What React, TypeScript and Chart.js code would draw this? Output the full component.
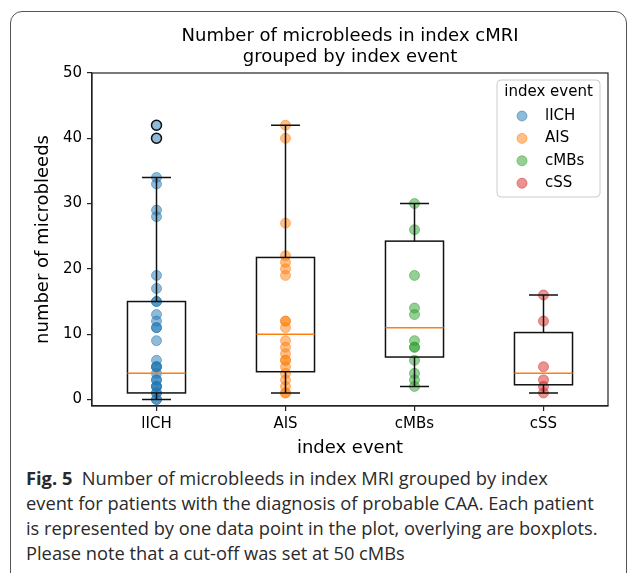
import React, { useEffect, useRef } from "react";
import { Chart, registerables } from "chart.js";

Chart.register(...registerables);

// ---- data ----
const categories = ["lICH", "AIS", "cMBs", "cSS"];
const lichValues = [42, 40, 34, 33, 29, 28, 19, 17, 15, 15, 13, 12, 11, 11, 9, 6, 5, 5, 5, 4, 3, 3, 2, 2, 2, 1, 1, 0, 0];
const aisValues = [42, 40, 27, 22, 21, 20, 19, 12, 12, 11, 9, 8, 7, 6, 6, 5, 4, 3, 2, 1, 1];
const cmbsValues = [30, 26, 19, 14, 13, 9, 8, 8, 6, 4, 3, 2];
const cssValues = [16, 12, 5, 3, 2, 1];
const boxQ1 = [1, 4.25, 6.5, 2.25];
const boxMedian = [4, 10, 11, 4];
const boxQ3 = [15, 21.75, 24.25, 10.25];
const whiskerLow = [0, 1, 2, 1];
const whiskerHigh = [34, 42, 30, 16];
const outlierCategory = ["lICH", "lICH"];
const outlierValues = [42, 40];
const yTicks = [0, 10, 20, 30, 40, 50];
const yMin = -1;
const yMax = 50;

const titleLines = ["Number of microbleeds in index cMRI", "grouped by index event"];
const legendTitle = "index event";
const xTitle = "index event";
const yTitle = "number of microbleeds";

const groupValues = [lichValues, aisValues, cmbsValues, cssValues];
const groupColors = ["rgba(31,119,180,0.5)", "rgba(255,127,14,0.5)", "rgba(44,160,44,0.5)", "rgba(214,39,40,0.5)"];

const FONT = "'DejaVu Sans', sans-serif";

const framePlugin = {
  id: "frameAndBoxes",
  afterDatasetsDraw(chart: any) {
    const { ctx, scales } = chart;
    const x = scales.x;
    const y = scales.y;
    const spacing = x.getPixelForValue(1) - x.getPixelForValue(0);
    const half = spacing * 0.45 / 2;
    const cap = spacing * 0.225 / 2;
    ctx.save();
    for (let i = 0; i < categories.length; i++) {
      const xc = x.getPixelForValue(i);
      const yq1 = y.getPixelForValue(boxQ1[i]);
      const yq3 = y.getPixelForValue(boxQ3[i]);
      const ymed = y.getPixelForValue(boxMedian[i]);
      const ylo = y.getPixelForValue(whiskerLow[i]);
      const yhi = y.getPixelForValue(whiskerHigh[i]);
      ctx.strokeStyle = "#111";
      ctx.lineWidth = 1.5;
      ctx.strokeRect(xc - half, yq3, half * 2, yq1 - yq3);
      ctx.beginPath();
      ctx.moveTo(xc, yq3); ctx.lineTo(xc, yhi);
      ctx.moveTo(xc, yq1); ctx.lineTo(xc, ylo);
      ctx.moveTo(xc - cap, yhi); ctx.lineTo(xc + cap, yhi);
      ctx.moveTo(xc - cap, ylo); ctx.lineTo(xc + cap, ylo);
      ctx.stroke();
      ctx.strokeStyle = "#ff7f0e";
      ctx.beginPath();
      ctx.moveTo(xc - half, ymed); ctx.lineTo(xc + half, ymed);
      ctx.stroke();
    }
    ctx.restore();
  },
  afterDraw(chart: any) {
    const { ctx, chartArea } = chart;
    ctx.save();
    // frame
    ctx.strokeStyle = "#222";
    ctx.lineWidth = 1.2;
    ctx.strokeRect(chartArea.left, chartArea.top, chartArea.right - chartArea.left, chartArea.bottom - chartArea.top);
    // title
    ctx.fillStyle = "#000";
    ctx.font = `18px ${FONT}`;
    ctx.textAlign = "center";
    ctx.textBaseline = "middle";
    const cx = (chartArea.left + chartArea.right) / 2;
    titleLines.forEach((t, i) => ctx.fillText(t, cx, 36 + i * 21));
    // legend
    const w = 103, h = 117;
    const x0 = chartArea.right - 8 - w;
    const y0 = chartArea.top + 7;
    ctx.beginPath();
    ctx.roundRect(x0, y0, w, h, 4);
    ctx.fillStyle = "rgba(255,255,255,0.8)";
    ctx.fill();
    ctx.strokeStyle = "#cccccc";
    ctx.lineWidth = 1;
    ctx.stroke();
    ctx.fillStyle = "#000";
    ctx.font = `15px ${FONT}`;
    ctx.textAlign = "center";
    ctx.fillText(legendTitle, x0 + w / 2, y0 + 12);
    ctx.textAlign = "left";
    categories.forEach((c, i) => {
      const yy = y0 + 36 + i * 22.4;
      ctx.beginPath();
      ctx.arc(x0 + 25, yy, 5, 0, Math.PI * 2);
      ctx.fillStyle = groupColors[i];
      ctx.fill();
      ctx.strokeStyle = groupColors[i];
      ctx.stroke();
      ctx.fillStyle = "#000";
      ctx.fillText(c, x0 + 48, yy);
    });
    ctx.restore();
  },
};

export default function App() {
  const ref = useRef<HTMLCanvasElement>(null);
  useEffect(() => {
    if (!ref.current) return;
    const datasets: any[] = [
      {
        label: "outliers",
        data: outlierValues.map((v, i) => ({ x: outlierCategory[i], y: v })),
        backgroundColor: "rgba(0,0,0,0)",
        borderColor: "#111",
        borderWidth: 1.5,
        pointRadius: 5,
        order: 0,
      },
      ...categories.map((c, i) => ({
        label: c,
        data: groupValues[i].map((v) => ({ x: c, y: v })),
        backgroundColor: groupColors[i],
        borderColor: groupColors[i],
        borderWidth: 1,
        pointRadius: 5,
        order: 1,
      })),
    ];
    const chart = new Chart(ref.current, {
      type: "scatter",
      data: { labels: categories, datasets },
      options: {
        animation: false,
        responsive: false,
        layout: { padding: { top: 73, left: 29, right: 21, bottom: 0 } },
        plugins: { legend: { display: false }, title: { display: false }, tooltip: { enabled: false } },
        scales: {
          x: {
            type: "category",
            labels: categories,
            offset: true,
            grid: { drawOnChartArea: false, drawTicks: true, tickLength: 5, color: "#222", lineWidth: 1.2, offset: false },
            border: { display: true, color: "#222", width: 1.2 },
            ticks: { color: "#000", font: { family: FONT, size: 15 }, padding: 4 },
            title: { display: true, text: xTitle, color: "#000", font: { family: FONT, size: 18 }, padding: 4 },
            afterFit: (s: any) => { s.height = 57; },
          },
          y: {
            type: "linear",
            min: yMin,
            max: yMax,
            afterBuildTicks: (s: any) => { s.ticks = yTicks.map((v) => ({ value: v })); },
            grid: { drawOnChartArea: false, drawTicks: true, tickLength: 5, color: "#222", lineWidth: 1.2 },
            border: { display: true, color: "#222", width: 1.2 },
            ticks: { color: "#000", font: { family: FONT, size: 15 }, padding: 5 },
            title: { display: true, text: yTitle, color: "#000", font: { family: FONT, size: 18 }, padding: 4 },
            afterFit: (s: any) => { s.width = 63; },
          },
        },
      },
      plugins: [framePlugin],
    } as any);
    return () => chart.destroy();
  }, []);

  return (
    <div style={{ position: "absolute", left: 0, top: 0, width: 629, height: 573, overflow: "hidden", background: "#fff" }}>
      <div
        style={{
          position: "absolute",
          left: 10,
          top: 11,
          width: 617,
          height: 590,
          boxSizing: "border-box",
          border: "1px solid #555",
          borderRadius: 12,
        }}
      />
      <canvas ref={ref} width={629} height={463} style={{ position: "absolute", left: 0, top: 0, width: 629, height: 463 }} />
      <div
        style={{
          position: "absolute",
          left: 26,
          top: 465,
          fontFamily: "'Open Sans', sans-serif",
          fontSize: 18.3,
          lineHeight: "25px",
          color: "#2a2a2a",
          whiteSpace: "nowrap",
        }}
      >
        <b>Fig. 5</b>&nbsp; Number of microbleeds in index MRI grouped by index
        <br />
        event for patients with the diagnosis of probable CAA. Each patient
        <br />
        is represented by one data point in the plot, overlying are boxplots.
        <br />
        Please note that a cut-off was set at 50 cMBs
      </div>
    </div>
  );
}
